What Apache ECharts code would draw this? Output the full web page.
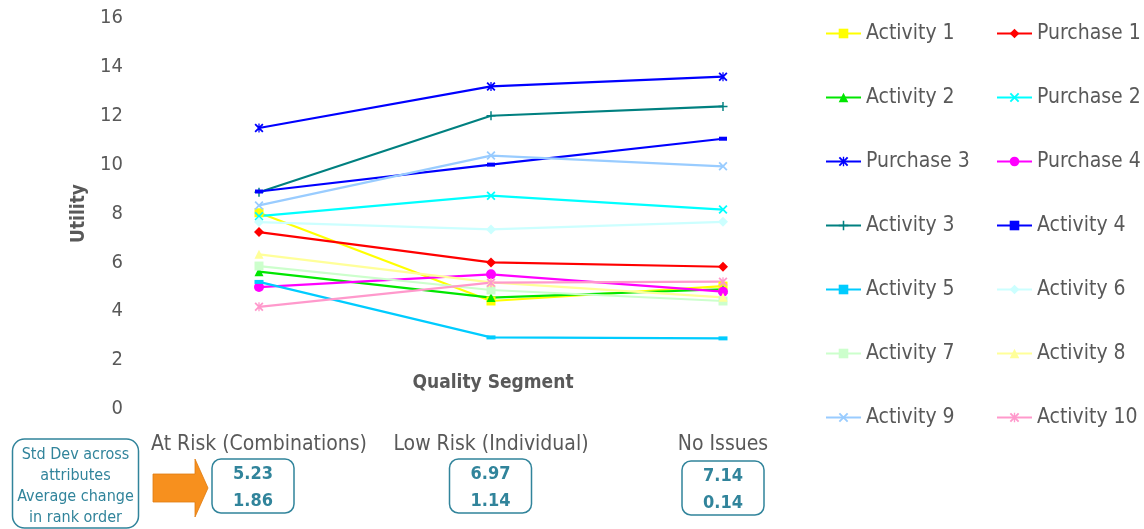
<!DOCTYPE html>
<html>
<head>
<meta charset="utf-8">
<title>Utility by Quality Segment</title>
<script src="https://cdn.jsdelivr.net/npm/echarts@6/dist/echarts.min.js"></script>
<style>
  html, body { margin: 0; padding: 0; background: #ffffff; }
  #chart { width: 1144px; height: 529px; }
</style>
</head>
<body>
<div id="chart"></div>
<script>
// Segments on the category axis
const categories = ['At Risk (Combinations)', 'Low Risk (Individual)', 'No Issues'];

// Utility per attribute, one value per segment
const activity1 = [8.03, 4.42, 5.03];
const purchase1 = [7.24, 6.00, 5.82];
const activity2 = [5.62, 4.56, 4.90];
const purchase2 = [7.89, 8.73, 8.16];
const purchase3 = [11.50, 13.20, 13.60];
const purchase4 = [4.99, 5.51, 4.80];
const activity3 = [8.87, 12.00, 12.38];
const activity4 = [8.90, 10.00, 11.06];
const activity5 = [5.20, 2.93, 2.89];
const activity6 = [7.65, 7.35, 7.66];
const activity7 = [5.85, 4.87, 4.42];
const activity8 = [6.33, 5.18, 4.57];
const activity9 = [8.33, 10.37, 9.93];
const activity10 = [4.18, 5.17, 5.21];

// Summary statistics shown under each segment
const stdDevAcrossAttributes = ['5.23', '6.97', '7.14'];
const avgRankChange = ['1.86', '1.14', '0.14'];

// Value axis ticks
const yMin = 0, yMax = 16, yStep = 2;

const FONT = "'DejaVu Sans Condensed', 'DejaVu Sans', sans-serif";
const GREY = '#595959';
const TEAL = '#31849B';

// Marker shapes
const X_SHAPE = 'path://M0,1.4 L1.4,0 L5,3.6 L8.6,0 L10,1.4 L6.4,5 L10,8.6 L8.6,10 L5,6.4 L1.4,10 L0,8.6 L3.6,5 Z';
const STAR_SHAPE = X_SHAPE.replace(' Z', ' Z M4.3,0 L5.7,0 L5.7,10 L4.3,10 Z');
const PLUS_SHAPE = 'path://M4.2,0 H5.8 V4.2 H10 V5.8 H5.8 V10 H4.2 V5.8 H0 V4.2 H4.2 Z';

// name, values, colour, symbol, symbol size
const seriesDefs = [
  ['Activity 1', activity1, '#FFFF00', 'rect', 9],
  ['Purchase 1', purchase1, '#FF0000', 'diamond', 10],
  ['Activity 2', activity2, '#00E600', 'triangle', 9],
  ['Purchase 2', purchase2, '#00FFFF', X_SHAPE, 9],
  ['Purchase 3', purchase3, '#0000FF', STAR_SHAPE, 9],
  ['Purchase 4', purchase4, '#FF00FF', 'circle', 10],
  ['Activity 3', activity3, '#008080', PLUS_SHAPE, 9],
  ['Activity 4', activity4, '#0000FF', 'rect', [8, 4]],
  ['Activity 5', activity5, '#00CCFF', 'rect', [9, 4]],
  ['Activity 6', activity6, '#CCFFFF', 'diamond', 10],
  ['Activity 7', activity7, '#CCFFCC', 'rect', 9],
  ['Activity 8', activity8, '#FFFF99', 'triangle', 9],
  ['Activity 9', activity9, '#99CCFF', X_SHAPE, 9],
  ['Activity 10', activity10, '#FF99CC', STAR_SHAPE, 9]
];

const series = seriesDefs.map(([name, values, color, symbol, size]) => ({
  name: name,
  type: 'line',
  data: values,
  symbol: symbol,
  symbolSize: size,
  showAllSymbol: true,
  lineStyle: { color: color, width: 2.2 },
  itemStyle: { color: color },
  emphasis: { disabled: true },
  animation: false,
  z: 2
}));

const legendLeftCol = ['Activity 1', 'Activity 2', 'Purchase 3', 'Activity 3', 'Activity 5', 'Activity 7', 'Activity 9'];
const legendRightCol = ['Purchase 1', 'Purchase 2', 'Purchase 4', 'Activity 4', 'Activity 6', 'Activity 8', 'Activity 10'];

function legendColumn(names, left) {
  return {
    data: names,
    orient: 'vertical',
    left: left,
    top: 23,
    padding: 0,
    itemWidth: 35,
    itemHeight: 12,
    itemGap: 43,
    selectedMode: false,
    textStyle: { fontFamily: FONT, fontSize: 21, color: GREY, lineHeight: 20, padding: [0, 0, 0, 0] }
  };
}

// Rounded boxes holding the two statistics for each segment
const boxCenters = [253, 490.5, 723];
const boxTops = [459, 459, 461];
const statBoxes = [];
boxCenters.forEach((cx, i) => {
  statBoxes.push({
    type: 'rect',
    shape: { x: cx - 41, y: boxTops[i], width: 82, height: 54, r: 9 },
    style: { fill: '#ffffff', stroke: TEAL, lineWidth: 1.5 },
    z: 10
  });
  statBoxes.push({
    type: 'text',
    style: {
      x: cx, y: boxTops[i] + 15, text: stdDevAcrossAttributes[i],
      font: 'bold 18px ' + FONT, fill: TEAL, align: 'center', verticalAlign: 'middle'
    },
    z: 11
  });
  statBoxes.push({
    type: 'text',
    style: {
      x: cx, y: boxTops[i] + 42, text: avgRankChange[i],
      font: 'bold 18px ' + FONT, fill: TEAL, align: 'center', verticalAlign: 'middle'
    },
    z: 11
  });
});

const chart = echarts.init(document.getElementById('chart'), null, { renderer: 'canvas' });

chart.setOption({
  backgroundColor: '#ffffff',
  animation: false,
  grid: { left: 143, right: 305, top: 18, bottom: 120, containLabel: false },
  xAxis: {
    type: 'category',
    data: categories,
    boundaryGap: true,
    axisLine: { show: false },
    axisTick: { show: false },
    splitLine: { show: false },
    axisLabel: { fontFamily: FONT, fontSize: 21, color: GREY, margin: 25, interval: 0 }
  },
  yAxis: {
    type: 'value',
    min: yMin,
    max: yMax,
    interval: yStep,
    name: 'Utility',
    nameLocation: 'middle',
    nameRotate: 90,
    nameGap: 54,
    nameTextStyle: { fontFamily: FONT, fontSize: 19, fontWeight: 'bold', color: GREY },
    axisLine: { show: false },
    axisTick: { show: false },
    splitLine: { show: false },
    axisLabel: { fontFamily: FONT, fontSize: 20, color: GREY, margin: 20 }
  },
  legend: [legendColumn(legendLeftCol, 825), legendColumn(legendRightCol, 996)],
  series: series,
  graphic: [
    {
      type: 'text',
      style: {
        x: 493, y: 383, text: 'Quality Segment',
        font: 'bold 19px ' + FONT, fill: GREY, align: 'center', verticalAlign: 'middle'
      },
      z: 10
    },
    {
      type: 'rect',
      shape: { x: 12.5, y: 439, width: 126, height: 89, r: 12 },
      style: { fill: '#ffffff', stroke: TEAL, lineWidth: 1.5 },
      z: 10
    },
    {
      type: 'text',
      style: {
        x: 75.5, y: 486, text: 'Std Dev across\nattributes\nAverage change\nin rank order',
        font: '16px ' + FONT, fill: TEAL, align: 'center', verticalAlign: 'middle', lineHeight: 21
      },
      z: 11
    },
    {
      type: 'polygon',
      shape: { points: [[153, 474], [195, 474], [195, 459], [208, 488], [195, 517], [195, 502], [153, 502]] },
      style: { fill: '#F7901E', stroke: '#E07B10', lineWidth: 0.8 },
      z: 10
    }
  ].concat(statBoxes)
});
</script>
</body>
</html>
